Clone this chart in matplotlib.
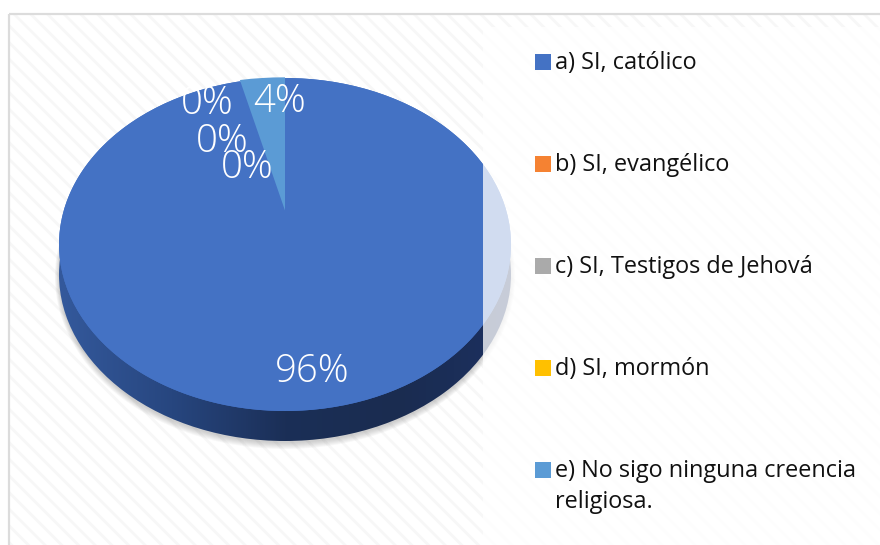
import numpy as np
import matplotlib
matplotlib.use('Agg')
import matplotlib.pyplot as plt
from matplotlib.colors import LinearSegmentedColormap
from matplotlib.patches import Ellipse, Rectangle
from matplotlib.transforms import Affine2D

categories = ['a) SI, católico', 'b) SI, evangélico', 'c) SI, Testigos de Jehová',
              'd) SI, mormón', 'e) No sigo ninguna creencia\nreligiosa.']
# slice sizes as drawn in the picture, the labels are the rounded ones printed on it
shares = [96.8, 0, 0, 0, 3.2]
pct_labels = ['96%', '0%', '0%', '0%', '4%']
colors = ['#4472c4', '#f58232', '#aaaaaa', '#ffc000', '#5b9bd5']

W, H = 880, 545
plt.rcParams['font.family'] = ['Open Sans', 'DejaVu Sans']
plt.rcParams['hatch.linewidth'] = 2.0

fig = plt.figure(figsize=(W / 100, H / 100), dpi=100, facecolor='white')


def pixel_axes(zorder):
    ax = fig.add_axes([0, 0, 1, 1], zorder=zorder)
    ax.set_xlim(0, W)
    ax.set_ylim(H, 0)
    ax.axis('off')
    return ax


# background panel with the diagonal stripes
base = pixel_axes(0)
base.add_patch(Rectangle((9, 14), W, H, facecolor='white', edgecolor='#f7f7f7', linewidth=0, hatch='\\\\'))
base.add_patch(Rectangle((9, 14), W, H, facecolor='none', edgecolor='#dcdcdc', linewidth=1.6))

# pie, the axes is stretched so the circle turns into the tilted ellipse
cx, cy, rx, ry, depth = 285, 244.5, 226, 166.5, 30
pad = 60
pie_ax = fig.add_axes([(cx - rx) / W, 1 - (cy + ry + pad) / H, 2 * rx / W, (2 * ry + pad) / H], zorder=1)
pie_ax.patch.set_alpha(0)

wedges, _ = pie_ax.pie(shares, colors=colors, startangle=90, counterclock=False, radius=1)
pie_ax.set_aspect('auto')
for w in wedges:
    w.set_clip_on(False)
    w.set_zorder(5)

# the tilt moves the apex of the small slice up, above the middle of the ellipse
wedges[-1].set_transform(Affine2D().scale(1, 0.8).translate(0, 0.204) + pie_ax.transData)
pie_ax.add_patch(Ellipse((0, 0), 2, 2, facecolor=colors[0], edgecolor='none', clip_on=False, zorder=3))

dy = depth / ry
for i in range(7):
    blur = Ellipse((0, -dy - 0.012), 2 + i * 0.006, 2 + i * 0.012, facecolor='#555555',
                   edgecolor='none', alpha=0.045, clip_on=False, zorder=1)
    pie_ax.add_patch(blur)

side_cmap = LinearSegmentedColormap.from_list('side', ['#34599c', '#27467f', '#1b2f57', '#1a2c50', '#1c3060'])
side = Ellipse((0, -dy), 2, 2, facecolor='none', edgecolor='none', clip_on=False, zorder=2)
pie_ax.add_patch(side)
grad = np.linspace(0, 1, 256).reshape(1, -1)
im = pie_ax.imshow(grad, cmap=side_cmap, extent=(-1, 1, -1 - dy, 1 - dy), aspect='auto', zorder=2)
im.set_clip_path(side)
pie_ax.set_xlim(-1, 1)
pie_ax.set_ylim(-1 - pad / ry, 1)

# legend block sits over the pie and washes out its right edge
top = pixel_axes(2)
top.add_patch(Rectangle((483, 27), W, H, facecolor='white', edgecolor='none', alpha=0.76))

legend_x = 535
legend_y = 62
legend_step = 102
for i, (name, col) in enumerate(zip(categories, colors)):
    y = legend_y + i * legend_step
    top.add_patch(Rectangle((legend_x, y - 8), 16, 16, facecolor=col, edgecolor='none'))
    top.text(legend_x + 20, y - 11, name, fontsize=16.9, color='#111111', va='top', ha='left', linespacing=1.38)

label_pos = [(312, 372), (207, 104), (222, 142), (247, 168), (280, 102)]
for txt, (x, y) in zip(pct_labels, label_pos):
    top.text(x, y, txt, fontsize=27.5, color='white', ha='center', va='center', fontweight='light')

fig.savefig('out.png', dpi=100)
